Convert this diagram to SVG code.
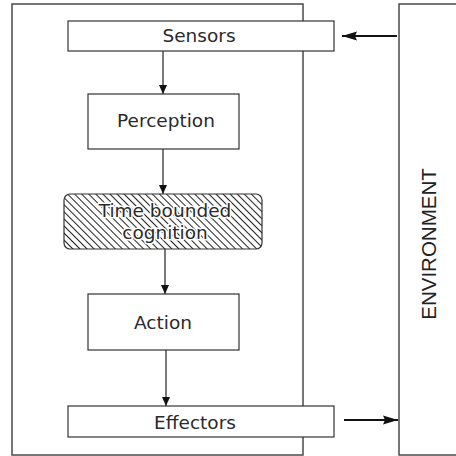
<svg xmlns="http://www.w3.org/2000/svg" width="456" height="456" viewBox="0 0 456 456">
<style>
.frame{fill:none;stroke:#4a4a4a;stroke-width:1.5}
.box{fill:#fff;stroke:#333;stroke-width:1.2}
.lbl{font-family:"DejaVu Sans",sans-serif;font-size:18.5px;fill:#2a2a2a;text-anchor:middle}
.halo{paint-order:stroke;stroke:#fff;stroke-width:3px;stroke-linejoin:round}
.env{font-family:"Liberation Sans",Arial,sans-serif;font-size:20.5px;fill:#222;text-anchor:middle}
.conn{stroke:#222;stroke-width:1.2;fill:none}
.thick{stroke:#111;stroke-width:2;fill:none}
</style>
<defs>
<pattern id="hatch" patternUnits="userSpaceOnUse" width="5" height="5" patternTransform="rotate(-45)">
<rect width="5" height="5" fill="#fff"/>
<line x1="0.5" y1="0" x2="0.5" y2="5" stroke="#222" stroke-width="1"/>
</pattern>
<marker id="ah" markerWidth="10" markerHeight="10" refX="9" refY="5" orient="auto" markerUnits="userSpaceOnUse">
<path d="M0,1 L9,5 L0,9 Z" fill="#111"/>
</marker>
<marker id="ahBig" markerWidth="16" markerHeight="12" refX="15" refY="6" orient="auto" markerUnits="userSpaceOnUse">
<path d="M0,1.5 L15,6 L0,10.5 L2,6 Z" fill="#111"/>
</marker>
</defs>
<g id="agent"><rect class="frame" x="12" y="4" width="291" height="451"/></g>
<g id="environment">
<rect class="frame" x="399" y="4" width="70" height="451"/>
<text class="env" transform="translate(436,244) rotate(-90)">ENVIRONMENT</text>
</g>
<g id="connectors">
<line class="conn" x1="163" y1="51" x2="163" y2="94" marker-end="url(#ah)"/>
<line class="conn" x1="163" y1="149" x2="163" y2="194" marker-end="url(#ah)"/>
<line class="conn" x1="165" y1="249" x2="165" y2="294" marker-end="url(#ah)"/>
<line class="conn" x1="166" y1="350" x2="166" y2="406" marker-end="url(#ah)"/>
<line class="thick" x1="397" y1="36" x2="342" y2="36" marker-end="url(#ahBig)"/>
<line class="thick" x1="344" y1="420" x2="398" y2="420" marker-end="url(#ahBig)"/>
</g>
<g id="sensors">
<rect class="box" x="68" y="21" width="266" height="30"/>
<text class="lbl" x="199" y="41.5">Sensors</text>
</g>
<g id="perception">
<rect class="box" x="88" y="94" width="151" height="55"/>
<text class="lbl" x="166" y="127">Perception</text>
</g>
<g id="cognition">
<rect x="64" y="194" width="198" height="55" rx="6" fill="url(#hatch)" stroke="#333" stroke-width="1.2"/>
<text class="lbl halo" x="165" y="217">Time bounded</text>
<text class="lbl halo" x="165" y="239">cognition</text>
</g>
<g id="action">
<rect class="box" x="88" y="294" width="151" height="56"/>
<text class="lbl" x="163" y="329">Action</text>
</g>
<g id="effectors">
<rect class="box" x="68" y="406" width="266" height="31"/>
<text class="lbl" x="195" y="429">Effectors</text>
</g>
</svg>
